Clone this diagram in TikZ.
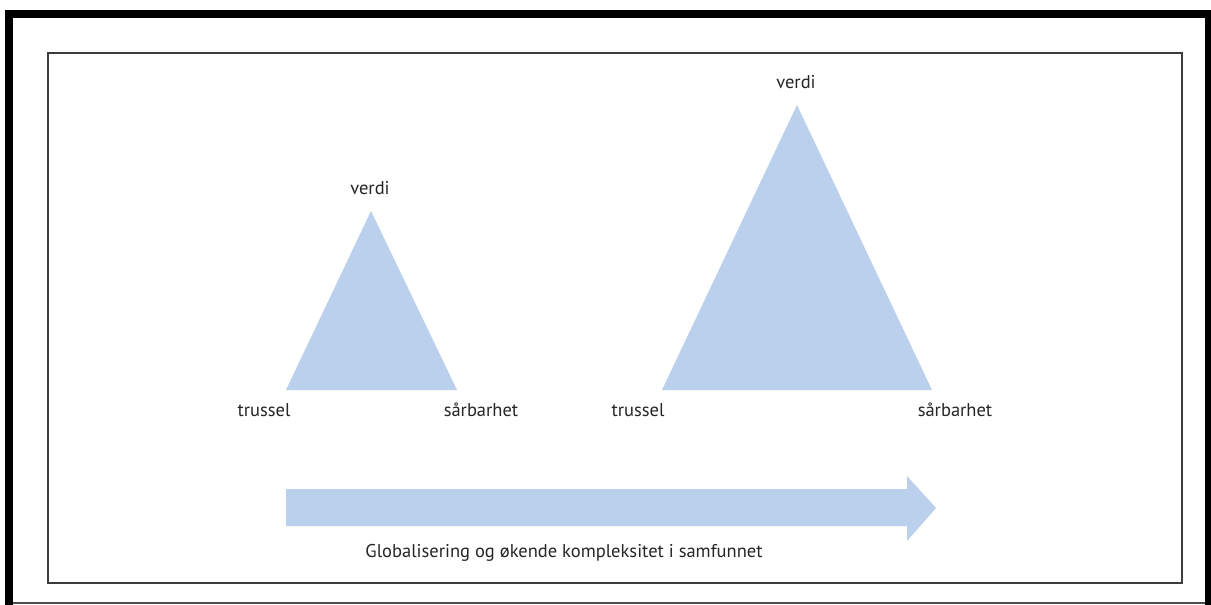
\documentclass[tikz,border=0pt]{standalone}
\usepackage{fontspec}
\setmainfont{PT Sans}
\definecolor{triblue}{RGB}{186,208,236}
\definecolor{framegray}{RGB}{60,60,60}
\tikzset{
  lbl/.style={font=\fontsize{18.5}{20}\selectfont, inner sep=0pt, text=black!85},
  tri/.style={fill=triblue, draw=none},
}
\begin{document}
\begin{tikzpicture}[x=1pt,y=-1pt]
\useasboundingbox (0,0) rectangle (1211,605);
\fill[white] (0,0) rectangle (1211,605);
% outer frame
\fill[black] (5,10) rectangle (1211,18);
\fill[black] (5,10) rectangle (13,605);
\fill[black] (1205,10) rectangle (1211,605);
\draw[black!70, line width=1.5] (13,603) -- (1205,603);
% inner frame
\draw[framegray, line width=2] (48,53) rectangle (1182,583);
% small triangle
\coordinate (a1) at (371,211);
\coordinate (b1) at (286,390);
\coordinate (c1) at (457,390);
\fill[tri] (a1) -- (b1) -- (c1) -- cycle;
\node[lbl] (v1) at (370,188) {verdi};
\node[lbl] (t1) at (264,410) {trussel};
\node[lbl] (s1) at (481,410) {sårbarhet};
% large triangle
\coordinate (a2) at (797,105);
\coordinate (b2) at (662,390);
\coordinate (c2) at (932,390);
\fill[tri] (a2) -- (b2) -- (c2) -- cycle;
\node[lbl] (v2) at (796,82) {verdi};
\node[lbl] (t2) at (638,410) {trussel};
\node[lbl] (s2) at (955,410) {sårbarhet};
% arrow
\fill[tri] (286,489) -- (907,489) -- (907,476) -- (936,508) -- (907,541) -- (907,526) -- (286,526) -- cycle;
\node[lbl] (g) at (564,553) {Globalisering og økende kompleksitet i samfunnet};
\end{tikzpicture}
\end{document}
